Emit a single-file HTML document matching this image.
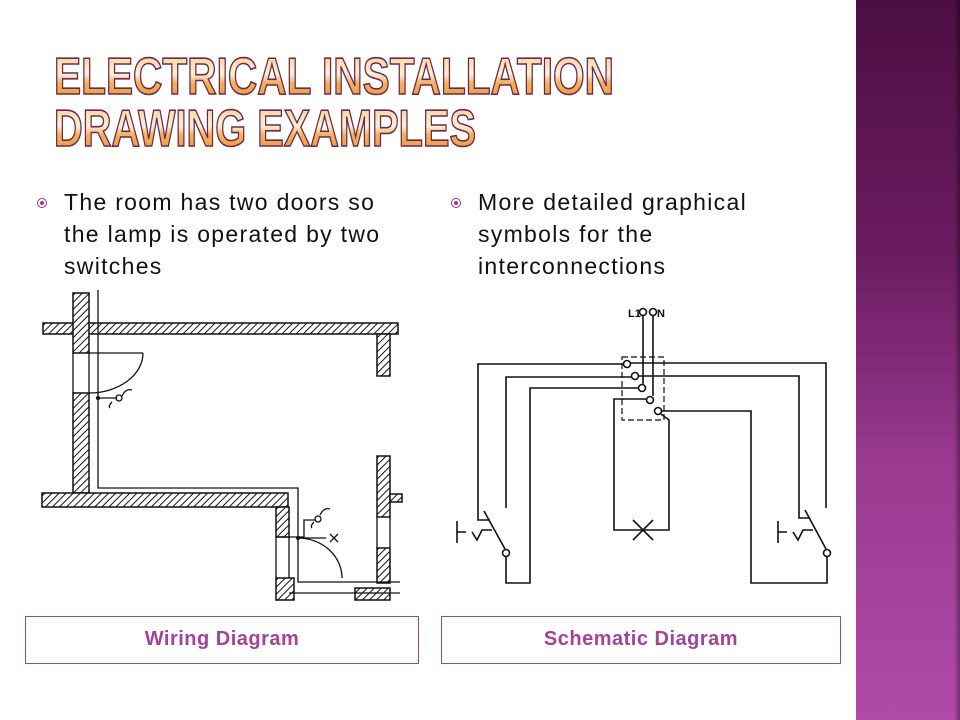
<!DOCTYPE html>
<html><head><meta charset="utf-8"><style>
html,body{margin:0;padding:0;background:#fff;}
body{width:960px;height:720px;position:relative;overflow:hidden;font-family:"Liberation Sans",sans-serif;}
.bar{position:absolute;left:856px;top:0;width:104px;height:720px;background:linear-gradient(#4c0e43,#6a1c60 35%,#9a3a90 65%,#b04aa8);}
.bar:after{content:"";position:absolute;right:0;top:0;width:6px;height:720px;background:linear-gradient(90deg,rgba(0,0,0,0),rgba(0,0,0,0.35));}
.txt{position:absolute;font-size:23px;line-height:32px;color:#111;letter-spacing:1.3px;white-space:nowrap;}
.bul{position:absolute;width:8px;height:8px;border:1.5px solid #9a3a8e;border-radius:50%;}
.bul:after{content:"";position:absolute;left:2px;top:2px;width:4px;height:4px;border-radius:50%;background:#9a3a8e;}
.cap{position:absolute;border:1.5px solid #9a4a8e;box-sizing:border-box;height:48px;top:616px;text-align:center;line-height:45px;font-weight:bold;font-size:20px;color:#a4439a;letter-spacing:0.5px;}
</style></head><body>
<div class="bar"></div>
<svg style="position:absolute;left:0;top:0" width="860" height="160">
<defs><linearGradient id="g" x1="0" y1="0" x2="0" y2="1"><stop offset="0" stop-color="#f8c884"/><stop offset="0.45" stop-color="#fff0dc"/><stop offset="0.6" stop-color="#f4b060"/><stop offset="1" stop-color="#e89030"/></linearGradient></defs>
<g font-family="Liberation Sans, sans-serif" font-weight="bold" font-size="52" fill="url(#g)" stroke="#6a2a4a" stroke-width="1.6">
<text x="54" y="94" textLength="560" lengthAdjust="spacingAndGlyphs">ELECTRICAL INSTALLATION</text>
<text x="54" y="146" textLength="422" lengthAdjust="spacingAndGlyphs">DRAWING EXAMPLES</text>
</g></svg>
<div class="bul" style="left:37px;top:198px"></div>
<div class="txt" style="left:64px;top:186px">The room has two doors so<br>the lamp is operated by two<br>switches</div>
<div class="bul" style="left:451px;top:198px"></div>
<div class="txt" style="left:478px;top:186px">More detailed graphical<br>symbols for the<br>interconnections</div>

<svg style="position:absolute;left:0;top:0" width="860" height="720">
<defs><pattern id="h" width="5" height="5" patternUnits="userSpaceOnUse" patternTransform="rotate(45)"><rect width="5" height="5" fill="#fff"/><line x1="0" y1="0" x2="0" y2="5" stroke="#111" stroke-width="2"/></pattern></defs>
<g stroke="#111" stroke-width="1.5" fill="url(#h)">
<rect x="43" y="323" width="355" height="11"/>
<rect x="377" y="334" width="13" height="42"/>
<rect x="73" y="293" width="16" height="60"/>
<rect x="73" y="393" width="16" height="100"/>
<rect x="42" y="493" width="246" height="14"/>
<rect x="276" y="507" width="13" height="30"/>
<rect x="276" y="578" width="18" height="22"/>
<rect x="377" y="456" width="13" height="61"/>
<rect x="377" y="548" width="13" height="35"/>
<rect x="355" y="588" width="35" height="12"/>
<rect x="390" y="494" width="12" height="8"/>
</g>
<g stroke="#111" stroke-width="1.3" fill="none">
<line x1="89" y1="353" x2="89" y2="393"/><line x1="73" y1="353" x2="73" y2="393"/>
<line x1="377" y1="517" x2="377" y2="548"/><line x1="390" y1="517" x2="390" y2="548"/>
<line x1="276" y1="537" x2="276" y2="578"/><line x1="289" y1="537" x2="289" y2="578"/>
<polyline points="98,290 98,488 298,488 298,582 400,582"/>
<line x1="289" y1="593" x2="400" y2="593"/>
<line x1="89" y1="353" x2="143" y2="353"/>
<path d="M143,353 A54,40 0 0 1 89,393"/>
<line x1="276" y1="537" x2="298" y2="537"/>
<path d="M298,538 A44,40 0 0 1 342,578"/>
<line x1="98" y1="398" x2="117" y2="398"/><circle cx="119" cy="398" r="3"/>
<path d="M122,396 q4,-8 10,-6 M112,402 q-4,4 -2,6"/>
<polyline points="298,537 304,537 304,520 315,520"/><circle cx="318" cy="519" r="3"/>
<path d="M320,515 q4,-8 10,-6 M314,522 q-4,4 -2,6"/>
<line x1="298" y1="538" x2="326" y2="538"/>
<path d="M330,534 l8,8 M338,534 l-8,8"/>
</g>
<circle cx="98" cy="398" r="2" fill="#111"/><circle cx="298" cy="538" r="2" fill="#111"/>

<g stroke="#111" stroke-width="1.6" fill="none">
<text x="628" y="317" font-size="11" font-weight="bold" fill="#111" stroke="none" font-family="Liberation Sans, sans-serif">L1</text>
<circle cx="643" cy="312" r="3.5"/><circle cx="653" cy="312" r="3.5"/>
<text x="657" y="317" font-size="11" font-weight="bold" fill="#111" stroke="none" font-family="Liberation Sans, sans-serif">N</text>
<line x1="643" y1="316" x2="643" y2="384"/><line x1="653" y1="316" x2="653" y2="396"/>
<rect x="622" y="357" width="42" height="63" stroke-dasharray="6,3" stroke-width="1.2"/>
<circle cx="627" cy="364" r="3.5"/><circle cx="635" cy="376" r="3.5"/><circle cx="642" cy="388" r="3.5"/><circle cx="650" cy="400" r="3.5"/><circle cx="658" cy="411" r="3.5"/>
<polyline points="623,364 478,364 478,520 490,520"/>
<polyline points="631,363 826,363 826,508"/>
<polyline points="631,377 506,377 506,508"/>
<polyline points="639,376 799,376 799,518 810,518"/>
<polyline points="638,388 530,388 530,583 506,583 506,556"/>
<polyline points="646,399 614,399 614,530 669,530 669,420 661,414"/>
<polyline points="662,411 751,411 751,583 827,583 827,556"/>
<path d="M633,520 l20,20 M653,520 l-20,20"/>
<line x1="484" y1="511" x2="505" y2="549"/><circle cx="506" cy="553" r="3.5"/>
<path d="M457,521 v22 M457,532 h9 M472,532 l5,8 l5,-10 h10"/>
<line x1="805" y1="510" x2="826" y2="549"/><circle cx="827" cy="553" r="3.5"/>
<path d="M778,521 v22 M778,532 h9 M793,532 l5,8 l5,-10 h10"/>
</g>
</svg>
<div class="cap" style="left:25px;width:394px">Wiring Diagram</div>
<div class="cap" style="left:441px;width:400px">Schematic Diagram</div>
</body></html>
